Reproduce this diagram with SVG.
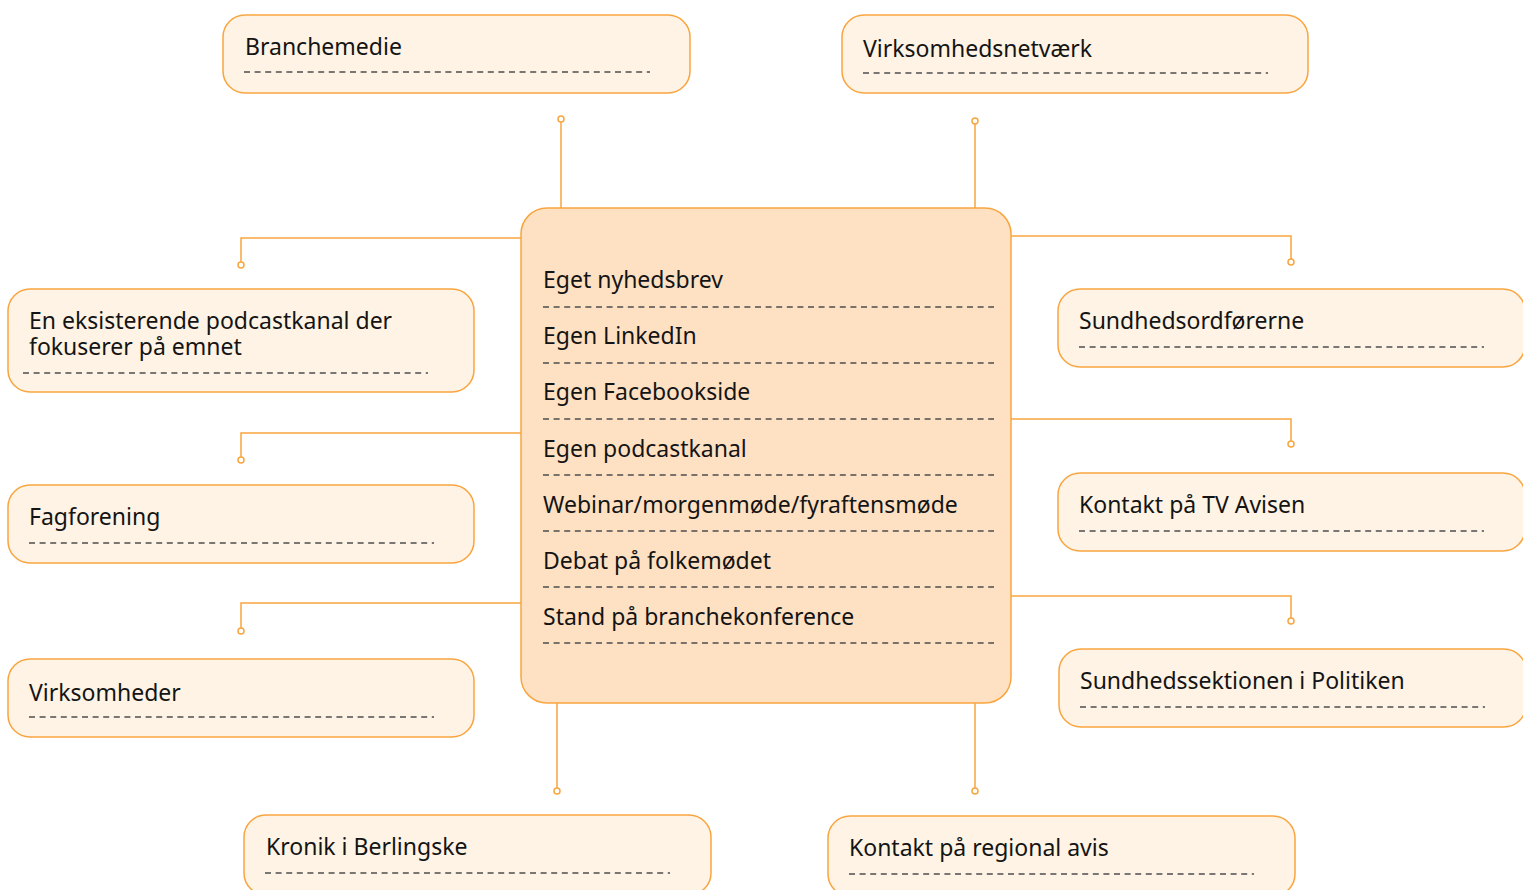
<svg xmlns="http://www.w3.org/2000/svg" width="1523" height="890" viewBox="0 0 1523 890">
<style>
.node{fill:#FEF3E4;stroke:#F9A53F;stroke-width:1.5}
.center{fill:#FEE1C3;stroke:#F9A53F;stroke-width:1.5}
.dash{stroke:#4d4d4d;stroke-width:1.3;stroke-dasharray:6 4.6;fill:none}
.t{font-family:"Noto Sans","Liberation Sans",sans-serif;font-size:23px;fill:#141414}
.conn{stroke:#F9A53F;stroke-width:1.5;fill:none}
.dot{fill:#fff;stroke:#F9A53F;stroke-width:1.5}
</style>
<rect width="1523" height="890" fill="#fff"/>
<g id="connectors">
<path class="conn" d="M561,122 V208"/><circle class="dot" cx="561" cy="119" r="3"/>
<path class="conn" d="M975,124 V208"/><circle class="dot" cx="975" cy="121" r="3"/>
<path class="conn" d="M521,238 H241 V262"/><circle class="dot" cx="241" cy="265" r="3"/>
<path class="conn" d="M521,433 H241 V457"/><circle class="dot" cx="241" cy="460" r="3"/>
<path class="conn" d="M521,603 H241 V628"/><circle class="dot" cx="241" cy="631" r="3"/>
<path class="conn" d="M1011,236 H1291 V259"/><circle class="dot" cx="1291" cy="262" r="3"/>
<path class="conn" d="M1011,419 H1291 V441"/><circle class="dot" cx="1291" cy="444" r="3"/>
<path class="conn" d="M1011,596 H1291 V618"/><circle class="dot" cx="1291" cy="621" r="3"/>
<path class="conn" d="M557,703 V788"/><circle class="dot" cx="557" cy="791" r="3"/>
<path class="conn" d="M975,703 V788"/><circle class="dot" cx="975" cy="791" r="3"/>
</g>
<g id="center">
<rect class="center" x="521" y="208" width="490" height="495" rx="26"/>
<text class="t" x="543" y="288">Eget nyhedsbrev</text>
<line class="dash" x1="543" y1="307" x2="994" y2="307"/>
<text class="t" x="543" y="344">Egen LinkedIn</text>
<line class="dash" x1="543" y1="363" x2="994" y2="363"/>
<text class="t" x="543" y="400">Egen Facebookside</text>
<line class="dash" x1="543" y1="419" x2="994" y2="419"/>
<text class="t" x="543" y="457">Egen podcastkanal</text>
<line class="dash" x1="543" y1="475" x2="994" y2="475"/>
<text class="t" x="543" y="513">Webinar/morgenmøde/fyraftensmøde</text>
<line class="dash" x1="543" y1="531" x2="994" y2="531"/>
<text class="t" x="543" y="569">Debat på folkemødet</text>
<line class="dash" x1="543" y1="587" x2="994" y2="587"/>
<text class="t" x="543" y="625">Stand på branchekonference</text>
<line class="dash" x1="543" y1="643" x2="994" y2="643"/>
</g>
<g id="branchemedie">
<rect class="node" x="223" y="15" width="467" height="78" rx="22"/>
<text class="t" x="245" y="55">Branchemedie</text>
<line class="dash" x1="244" y1="72" x2="650" y2="72"/>
</g>
<g id="virksomhedsnetvaerk">
<rect class="node" x="842" y="15" width="466" height="78" rx="22"/>
<text class="t" x="863" y="57">Virksomhedsnetværk</text>
<line class="dash" x1="863" y1="73" x2="1268" y2="73"/>
</g>
<g id="podcastkanal">
<rect class="node" x="8" y="289" width="466" height="103" rx="22"/>
<text class="t" x="29" y="329">En eksisterende podcastkanal der<tspan x="29" dy="26">fokuserer på emnet</tspan></text>
<line class="dash" x1="23" y1="373" x2="428" y2="373"/>
</g>
<g id="fagforening">
<rect class="node" x="8" y="485" width="466" height="78" rx="22"/>
<text class="t" x="29" y="525">Fagforening</text>
<line class="dash" x1="29" y1="543" x2="434" y2="543"/>
</g>
<g id="virksomheder">
<rect class="node" x="8" y="659" width="466" height="78" rx="22"/>
<text class="t" x="29" y="701">Virksomheder</text>
<line class="dash" x1="29" y1="717" x2="434" y2="717"/>
</g>
<g id="sundhedsordfoererne">
<rect class="node" x="1058" y="289" width="467" height="78" rx="22"/>
<text class="t" x="1079" y="329">Sundhedsordførerne</text>
<line class="dash" x1="1079" y1="347" x2="1484" y2="347"/>
</g>
<g id="tvavisen">
<rect class="node" x="1058" y="473" width="467" height="78" rx="22"/>
<text class="t" x="1079" y="513">Kontakt på TV Avisen</text>
<line class="dash" x1="1079" y1="531" x2="1484" y2="531"/>
</g>
<g id="politiken">
<rect class="node" x="1059" y="649" width="467" height="78" rx="22"/>
<text class="t" x="1080" y="689">Sundhedssektionen i Politiken</text>
<line class="dash" x1="1080" y1="707" x2="1485" y2="707"/>
</g>
<g id="berlingske">
<rect class="node" x="244" y="815" width="467" height="80" rx="22"/>
<text class="t" x="266" y="855">Kronik i Berlingske</text>
<line class="dash" x1="265" y1="873" x2="670" y2="873"/>
</g>
<g id="regionalavis">
<rect class="node" x="828" y="816" width="467" height="80" rx="22"/>
<text class="t" x="849" y="856">Kontakt på regional avis</text>
<line class="dash" x1="849" y1="874" x2="1254" y2="874"/>
</g>
</svg>
